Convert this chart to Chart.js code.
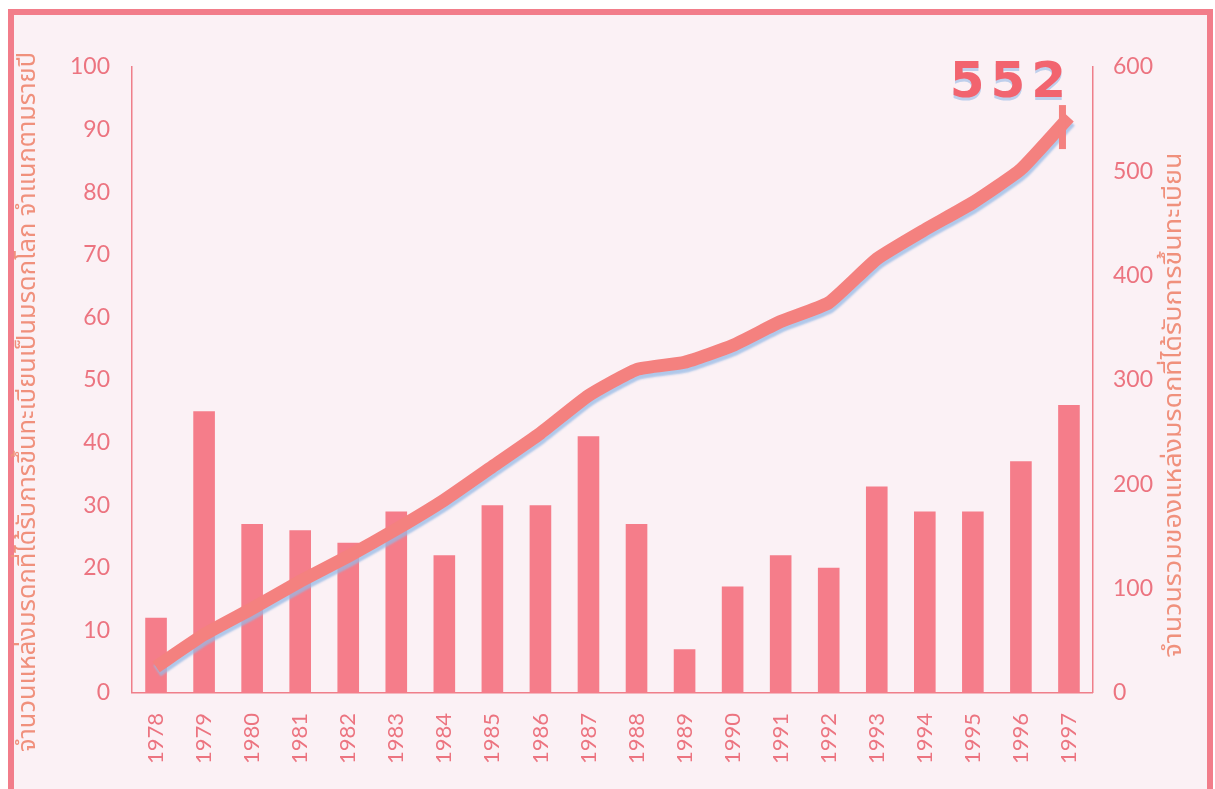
<!DOCTYPE html>
<html lang="th">
<head>
<meta charset="UTF-8" />
<title>แหล่งมรดกโลก 1978-1997</title>
<script src="https://cdn.jsdelivr.net/npm/chart.js"></script>
<style>
  body { margin: 0; background: #fff; }
  .frame {
    position: absolute; left: 8px; top: 9px; width: 1193px; height: 776px;
    border: 6px solid #f27d8a; background: #fbf1f5;
  }
  #chart { position: absolute; left: 0; top: 0; }
</style>
</head>
<body>
<div class="frame"></div>
<canvas id="chart" width="1215" height="789"></canvas>
<script>
// values
const years = ["1978", "1979", "1980", "1981", "1982", "1983", "1984", "1985", "1986", "1987",
               "1988", "1989", "1990", "1991", "1992", "1993", "1994", "1995", "1996", "1997"];
const perYear = [12, 45, 27, 26, 24, 29, 22, 30, 30, 41, 27, 7, 17, 22, 20, 33, 29, 29, 37, 46];
const totals = [25, 56, 81, 107, 131, 157, 185, 217, 249, 285, 310, 317, 333, 356, 374, 416, 444, 470, 502, 552];

const leftTitle = "จำนวนแหล่งมรดกที่ได้รับการขึ้นทะเบียนเป็นมรดกโลก จำแนกตามรายปี";
const rightTitle = "จำนวนรวมของแหล่งมรดกที่ได้รับการขึ้นทะเบียน";

const barColor = "#f57d8a";
const lineColor = "#f4817f";
const tickColor = "#ec7480";
const titleColor = "#f0907c";
const axisColor = "#ef7f8a";
const thaiFont = "'Noto Sans Thai', 'Noto Serif Thai', Loma, Garuda, Norasi, sans-serif";

// vertical title, stretched along its length to fill the given span
function drawTitle(c, text, x, y, span) {
  c.save();
  c.fillStyle = titleColor;
  c.font = "24px " + thaiFont;
  c.textAlign = "center";
  c.textBaseline = "middle";
  c.translate(x, y);
  c.rotate(-Math.PI / 2);
  const w = c.measureText(text).width;
  c.scale(span / w, 1);
  c.fillText(text, 0, 0);
  c.restore();
}

const extras = {
  id: "extras",
  beforeDatasetDraw(chart, args) {
    if (args.index === 1) {
      const c = chart.ctx;
      c.save();
      c.shadowColor = "rgba(150,185,230,0.75)";
      c.shadowOffsetY = 4;
      c.shadowOffsetX = 1;
      c.shadowBlur = 2;
    }
  },
  afterDatasetDraw(chart, args) {
    if (args.index === 1) chart.ctx.restore();
  },
  afterDraw(chart) {
    const c = chart.ctx;
    drawTitle(c, leftTitle, 30, 402, 700);
    drawTitle(c, rightTitle, 1176, 405, 505);

    // hand-written total at the end of the line
    const pt = chart.getDatasetMeta(1).data[totals.length - 1];
    c.save();
    c.fillStyle = lineColor;
    c.fillRect(pt.x - 10, pt.y - 12, 7, 44);
    c.fillStyle = "#f2646f";
    c.font = "bold 50px 'DejaVu Sans'";
    c.letterSpacing = "6px";
    c.textAlign = "center";
    c.textBaseline = "alphabetic";
    c.shadowColor = "rgba(150,185,230,0.6)";
    c.shadowOffsetY = 3;
    c.fillText(String(totals[totals.length - 1]), pt.x - 58, pt.y - 20);
    c.restore();
  }
};

new Chart(document.getElementById("chart"), {
  type: "bar",
  data: {
    labels: years,
    datasets: [
      {
        type: "bar",
        data: perYear,
        backgroundColor: barColor,
        barPercentage: 0.45,
        categoryPercentage: 1,
        yAxisID: "y",
        order: 2
      },
      {
        type: "line",
        data: totals,
        borderColor: lineColor,
        borderWidth: 13,
        pointRadius: 0,
        tension: 0.15,
        yAxisID: "y2",
        order: 1
      }
    ]
  },
  options: {
    responsive: false,
    animation: false,
    layout: { padding: { left: 56, right: 50, top: 67, bottom: 13 } },
    plugins: { legend: { display: false }, tooltip: { enabled: false } },
    scales: {
      x: {
        grid: { display: false },
        border: { color: axisColor, width: 1.5 },
        ticks: {
          color: tickColor,
          font: { family: "Lato", size: 22 },
          minRotation: 90,
          maxRotation: 90,
          padding: 12
        }
      },
      y: {
        position: "left",
        min: 0,
        max: 100,
        grid: { display: false },
        border: { color: axisColor, width: 1.5 },
        ticks: {
          stepSize: 10,
          color: tickColor,
          font: { family: "Lato", size: 23 },
          padding: 14
        }
      },
      y2: {
        position: "right",
        min: 0,
        max: 600,
        grid: { display: false },
        border: { color: axisColor, width: 1.5 },
        ticks: {
          stepSize: 100,
          color: tickColor,
          font: { family: "Lato", size: 23 },
          padding: 12
        }
      }
    }
  },
  plugins: [extras]
});
</script>
</body>
</html>
